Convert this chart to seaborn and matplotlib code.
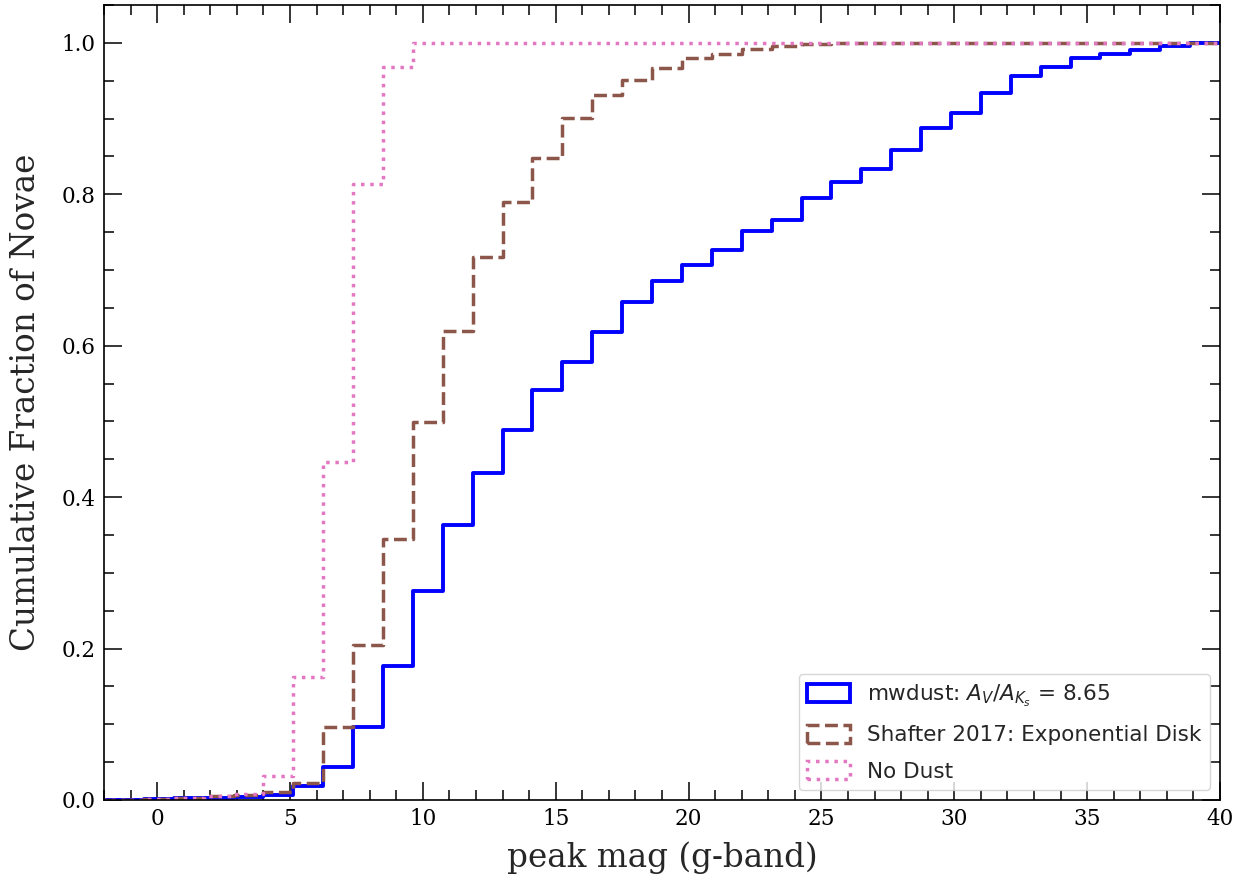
import numpy as np
import pandas as pd
import matplotlib
matplotlib.use("Agg")
import matplotlib.pyplot as plt
from matplotlib.patches import Patch
from matplotlib.ticker import MultipleLocator
import seaborn as sns

# Histogram binning in peak magnitude: 38 bins of 1.125 mag ending at 40
bin_lo = -2.75
bin_width = 1.125
n_bins = 38

# Cumulative fraction of novae at the upper edge of each bin
mwdust_cum = [0.000, 0.000, 0.001, 0.002, 0.003, 0.004, 0.007, 0.018,
              0.044, 0.097, 0.177, 0.276, 0.363, 0.432, 0.489, 0.542,
              0.579, 0.618, 0.658, 0.685, 0.707, 0.727, 0.751, 0.766,
              0.795, 0.816, 0.833, 0.859, 0.887, 0.908, 0.934, 0.956,
              0.968, 0.980, 0.985, 0.991, 0.996, 1.000]
shafter_cum = [0.000, 0.000, 0.001, 0.002, 0.005, 0.007, 0.011, 0.023,
               0.096, 0.205, 0.345, 0.499, 0.620, 0.717, 0.790, 0.848,
               0.901, 0.931, 0.951, 0.967, 0.980, 0.985, 0.992, 0.996,
               0.998, 1.000, 1.000, 1.000, 1.000, 1.000, 1.000, 1.000,
               1.000, 1.000, 1.000, 1.000, 1.000, 1.000]
nodust_cum = [0.000, 0.000, 0.001, 0.003, 0.005, 0.008, 0.032, 0.163,
              0.446, 0.814, 0.968, 1.000, 1.000, 1.000, 1.000, 1.000,
              1.000, 1.000, 1.000, 1.000, 1.000, 1.000, 1.000, 1.000,
              1.000, 1.000, 1.000, 1.000, 1.000, 1.000, 1.000, 1.000,
              1.000, 1.000, 1.000, 1.000, 1.000, 1.000]

model_labels = [r"mwdust: $A_V/A_{K_s}$ = 8.65",
                "Shafter 2017: Exponential Disk",
                "No Dust"]

edges = bin_lo + bin_width * np.arange(n_bins + 1)
centers = 0.5 * (edges[:-1] + edges[1:])

frames = []
for label, cum in zip(model_labels, [mwdust_cum, shafter_cum, nodust_cum]):
    frac = np.diff(np.asarray(cum), prepend=0.0)
    frames.append(pd.DataFrame({"mag": centers, "frac": frac, "model": label}))
df = pd.concat(frames, ignore_index=True)

sns.set_style("ticks")
plt.rcParams["font.family"] = ["DejaVu Serif"]
plt.rcParams["mathtext.fontset"] = "dejavusans"

fig = plt.figure(figsize=(12.47, 8.74), dpi=100)
ax = fig.add_axes([0.0834, 0.0847, 0.8950, 0.9095])

styles = [("blue", "-", 2.8), ("#8c564b", "--", 2.5), ("#e377c2", ":", 2.5)]
handles = []
for label, (color, ls, lw) in zip(model_labels, styles):
    sns.histplot(data=df[df["model"] == label], x="mag", weights="frac",
                 bins=edges.tolist(), cumulative=True, element="step",
                 fill=False, color=color, linestyle=ls, linewidth=lw, ax=ax)
    handles.append(Patch(facecolor="none", edgecolor=color, linestyle=ls,
                         linewidth=lw, label=label))

ax.set_xlim(-2, 40)
ax.set_ylim(0, 1.05)
ax.set_xlabel("peak mag (g-band)", fontsize=23.5, labelpad=8)
ax.set_ylabel("Cumulative Fraction of Novae", fontsize=23.5, labelpad=14)

ax.xaxis.set_major_locator(MultipleLocator(5))
ax.xaxis.set_minor_locator(MultipleLocator(1))
ax.yaxis.set_major_locator(MultipleLocator(0.2))
ax.yaxis.set_minor_locator(MultipleLocator(0.05))
ax.tick_params(which="both", direction="in", top=True, right=True,
               labelsize=15.5, colors="black", width=1.1)
ax.tick_params(which="major", length=13, pad=6)
ax.tick_params(which="minor", length=7)
for sp in ax.spines.values():
    sp.set_visible(True)
    sp.set_color("black")
    sp.set_linewidth(1.2)

ax.legend(handles=handles, loc="lower right", labelspacing=0.75,
          handleheight=0.9, borderaxespad=0.45,
          prop={"family": "DejaVu Sans", "size": 15.5})

fig.savefig("out.png", dpi=100)
